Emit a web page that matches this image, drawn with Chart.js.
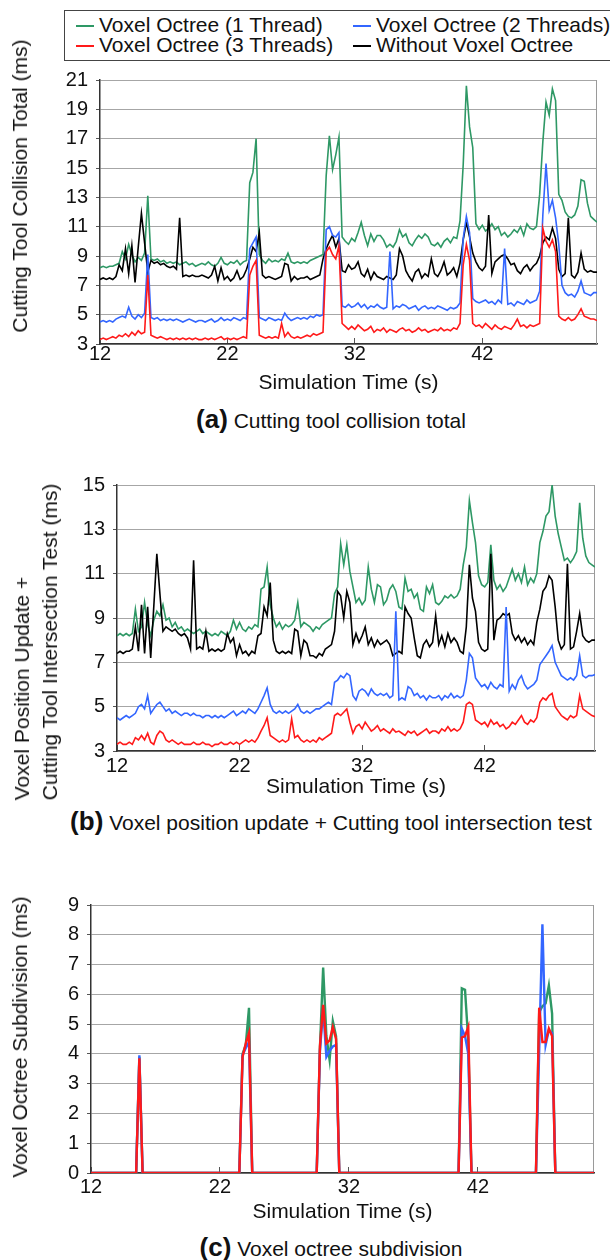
<!DOCTYPE html>
<html>
<head>
<meta charset="utf-8">
<script src="https://cdn.jsdelivr.net/npm/chart.js@4.4.1/dist/chart.umd.min.js"></script>
<style>
  body { margin: 0; background: #fff; width: 610px; height: 1260px; position: relative; overflow: hidden;
         font-family: 'Liberation Sans', Arial, sans-serif; color: #111; }
  canvas { position: absolute; left: 0; }
  .legend { position: absolute; left: 64px; top: 10px; width: 560px; height: 49px; border: 1px solid #444; }
  .item { position: absolute; font-size: 21px; line-height: 21px; white-space: nowrap; }
  .item i { display: inline-block; width: 18px; height: 0; border-top: 2px solid; vertical-align: middle; margin-right: 5px; }
  .ytitle { position: absolute; font-size: 21px; line-height: 28px; white-space: nowrap; text-align: left;
            transform: translate(-50%, -50%) rotate(-90deg); }
  .caption { position: absolute; font-size: 21px; white-space: nowrap; transform: translate(-50%, -50%); }
  .caption b { font-size: 26px; }
</style>
</head>
<body>

<div class="legend">
  <div class="item" style="left:11px;top:3px"><i style="color:#2e9865"></i>Voxel Octree (1 Thread)</div>
  <div class="item" style="left:288px;top:3px"><i style="color:#3366ff"></i>Voxel Octree (2 Threads)</div>
  <div class="item" style="left:11px;top:23px"><i style="color:#ff1a1a"></i>Voxel Octree (3 Threads)</div>
  <div class="item" style="left:288px;top:23px"><i style="color:#000"></i>Without Voxel Octree</div>
</div>

<canvas id="chartTotal" width="610" height="340" style="top:60px"></canvas>
<canvas id="chartUpdate" width="610" height="335" style="top:465px"></canvas>
<canvas id="chartSubdiv" width="610" height="340" style="top:885px"></canvas>

<div class="ytitle" style="left:20px;top:186px">Cutting Tool Collision Total (ms)</div>
<div class="ytitle" style="left:36px;top:642px">Voxel Position Update +<br>Cutting Tool Intersection Test (ms)</div>
<div class="ytitle" style="left:20px;top:1037px">Voxel Octree Subdivision (ms)</div>

<div class="caption" style="left:331px;top:419px"><b>(a)</b> Cutting tool collision total</div>
<div class="caption" style="left:331px;top:821px"><b>(b)</b> Voxel position update + Cutting tool intersection test</div>
<div class="caption" style="left:331px;top:1247px"><b>(c)</b> Voxel octree subdivision</div>

<script>
// sampling grid: every 0.25 s from 12 s to 51 s
const times = [];
for (let t = 12; t <= 51.0001; t += 0.25) times.push(Math.round(t * 100) / 100);

const timeTicks = [12, 22, 32, 42];
const totalTicks = [3, 5, 7, 9, 11, 13, 15, 17, 19, 21];
const updateTicks = [3, 5, 7, 9, 11, 13, 15];
const subdivTicks = [0, 1, 2, 3, 4, 5, 6, 7, 8, 9];

// (a) cutting tool collision total, ms
const totalOne = [
  8.2, 8.3, 8.2, 8.3, 8.3, 8.4, 8.5, 9.3,
  8.8, 9.8, 9.1, 8.6, 8.9, 8.7, 9.2, 13.1,
  8.8, 8.7, 8.8, 8.6, 8.7, 8.5, 8.6, 8.5,
  8.6, 8.4, 8.5, 8.6, 8.4, 8.5, 8.3, 8.4,
  8.5, 8.4, 8.6, 8.4, 8.3, 8.5, 8.9, 8.5,
  8.4, 8.6, 8.5, 8.7, 8.4, 8.6, 8.7, 14.0,
  14.7, 17.0, 9.1, 8.7, 8.5, 8.8, 8.6, 8.7,
  8.6, 8.8, 8.7, 9.2, 8.6, 8.5, 8.6, 8.5,
  8.6, 8.5, 8.7, 8.8, 8.9, 9.0, 9.1, 14.5,
  17.2, 14.9, 15.9, 17.1, 10.3, 10.0, 9.8, 10.2,
  10.0, 10.6, 11.3, 10.4, 9.7, 10.5, 10.0, 10.4,
  10.4, 10.1, 9.6, 9.8, 9.6, 10.0, 10.8, 10.3,
  10.5, 9.9, 9.7, 10.1, 10.4, 10.2, 10.5, 10.3,
  9.8, 9.7, 9.9, 9.6, 10.0, 10.2, 9.9, 10.3,
  10.2, 11.4, 15.2, 20.6, 17.8, 16.4, 11.2, 10.8,
  11.1, 10.7, 10.9, 11.2, 10.8, 11.0, 10.4, 10.6,
  10.3, 10.5, 10.8, 10.6, 11.0, 10.4, 11.2, 10.9,
  10.8, 11.0, 13.2, 16.8, 19.5, 18.6, 20.4, 19.6,
  13.2, 12.8, 12.0, 11.7, 11.6, 11.8, 12.4, 14.2,
  14.1, 12.6, 11.7, 11.5, 11.3
];
const totalTwo = [
  4.5, 4.6, 4.5, 4.6, 4.5, 4.7, 4.8, 4.9,
  4.8, 5.5, 4.9, 4.7, 5.0, 4.8, 5.1, 9.1,
  4.8, 4.7, 4.8, 4.6, 4.7, 4.6, 4.7, 4.6,
  4.7, 4.6, 4.5, 4.6, 4.7, 4.6, 4.5, 4.6,
  4.6, 4.5, 4.6, 4.7, 4.5, 4.6, 4.8, 4.6,
  4.7, 4.6, 4.8, 4.7, 4.6, 4.8, 4.7, 9.5,
  9.9, 10.3, 4.8, 4.7, 4.6, 4.8, 4.7, 4.6,
  4.7, 4.6, 5.1, 4.8, 4.6, 4.7, 4.8, 4.7,
  4.8, 4.7, 4.9, 4.8, 5.0, 4.9, 5.0, 10.8,
  11.0, 10.4, 10.3, 10.6, 5.6, 5.5, 5.7, 5.5,
  5.6, 5.8, 5.5, 5.7, 5.4, 5.6, 5.5, 5.7,
  5.5, 5.4, 5.5, 9.3, 5.4, 5.6, 5.5, 5.7,
  5.6, 5.4, 5.5, 5.6, 5.3, 5.5, 5.6, 5.4,
  5.5, 5.4, 5.6, 5.5, 5.4, 5.3, 5.5, 5.4,
  5.5, 5.8, 10.2, 11.7, 10.6, 6.1, 5.9, 5.8,
  5.9, 6.0, 5.8, 5.9, 5.7, 6.0, 5.8, 9.5,
  5.7, 5.8, 5.6, 5.9, 5.8, 5.7, 6.0, 5.8,
  5.9, 6.0, 6.6, 11.8, 15.3, 12.1, 12.8, 11.6,
  9.8, 7.0, 6.5, 6.3, 6.4, 6.2, 6.6, 7.3,
  6.5, 6.4, 6.3, 6.5, 6.5
];
const totalThree = [
  3.3, 3.4, 3.3, 3.4, 3.5, 3.4, 3.6, 3.5,
  3.7, 3.5, 3.8, 3.6, 3.9, 3.7, 3.8, 7.7,
  3.6, 3.5, 3.4, 3.5, 3.4, 3.3, 3.4, 3.3,
  3.4, 3.3, 3.4, 3.3, 3.4, 3.3, 3.4, 3.3,
  3.3, 3.4, 3.3, 3.4, 3.3, 3.4, 3.5, 3.3,
  3.4, 3.3, 3.4, 3.3, 3.4, 3.5, 3.4, 7.7,
  8.3, 8.7, 3.6, 3.5, 3.4, 3.5, 3.4, 3.5,
  3.4, 4.4, 3.5, 3.8, 3.5, 3.4, 3.5, 3.4,
  3.5, 3.6, 3.5, 3.7, 3.6, 3.7, 3.8, 9.3,
  9.6, 9.1, 8.8, 9.7, 4.4, 4.2, 4.0, 4.2,
  4.0, 4.3, 4.1, 3.9, 4.0, 4.2, 3.8, 4.0,
  3.9, 4.1, 3.8, 4.0, 3.9, 3.8, 4.0, 4.1,
  3.9, 4.0, 3.8, 3.9, 4.1, 3.9, 4.0, 3.8,
  3.9, 4.0, 3.9, 4.1, 3.9, 4.0, 3.9, 4.1,
  4.0, 4.4, 8.4, 9.8, 8.7, 4.4, 4.2, 4.3,
  4.1, 4.4, 4.2, 4.0, 4.3, 4.1, 4.0, 4.2,
  4.1, 4.0, 4.3, 4.7, 4.2, 4.3, 4.1, 4.3,
  4.2, 4.3, 4.4, 10.9, 10.0, 9.6, 10.1, 9.3,
  4.9, 4.7, 4.6, 4.8, 4.6, 4.7, 5.0, 5.4,
  4.9, 4.8, 4.7, 4.7, 4.6
];
const totalNone = [
  7.4, 7.5, 7.4, 7.5, 7.4, 7.6, 8.4, 8.0,
  9.5, 7.8, 9.7, 7.2, 9.6, 11.9, 9.9, 7.9,
  8.7, 8.5, 8.6, 8.4, 8.5, 8.3, 8.2, 8.3,
  8.1, 11.6, 7.6, 7.7, 7.6, 7.7, 7.6, 7.6,
  7.7, 7.6, 7.5, 7.7, 8.3, 7.3, 8.2, 7.4,
  7.6, 7.3, 7.5, 8.0, 7.4, 7.6, 8.1, 8.8,
  9.6, 9.3, 10.6, 7.7, 7.5, 7.6, 7.5, 7.4,
  7.5, 7.6, 8.5, 8.4, 7.3, 7.6, 7.4, 7.5,
  7.5, 7.6, 7.4, 7.5, 7.6, 7.7, 8.8, 9.5,
  10.0, 10.4, 9.6, 10.2, 8.0, 7.9, 8.4, 8.1,
  8.2, 8.6, 7.8, 7.6, 8.1, 7.4, 7.9, 7.6,
  7.5, 7.4, 7.6, 7.5, 7.4, 7.7, 9.5, 9.0,
  8.0, 7.6, 7.3, 7.9, 8.1, 7.5, 7.8, 7.6,
  8.8, 7.8, 7.6, 8.0, 8.6, 7.7, 7.9, 8.2,
  7.6, 8.5, 10.1, 11.3, 10.3, 9.2, 8.6, 8.2,
  8.0, 8.3, 11.8, 7.8, 8.6, 8.8, 9.0, 9.1,
  8.8, 8.4, 8.5, 8.0, 7.8, 8.2, 8.4, 8.0,
  8.3, 8.5, 9.0, 9.9, 10.3, 10.1, 10.9, 10.2,
  8.1, 7.6, 7.8, 11.6, 7.7, 7.5, 7.9, 9.2,
  8.1, 7.9, 8.0, 7.9, 7.9
];

// (b) voxel position update + cutting tool intersection test, ms
const updateOne = [
  8.2, 8.3, 8.2, 8.3, 8.2, 8.3, 9.4, 8.4,
  8.6, 9.7, 8.7, 8.2, 8.9, 9.3, 9.1, 9.6,
  8.9, 9.0, 8.6, 8.8, 8.5, 8.6, 8.4, 8.5,
  8.4, 8.3, 8.4, 8.5, 8.3, 8.4, 8.3, 8.2,
  8.3, 8.2, 8.4, 8.3, 8.2, 8.4, 8.9, 8.5,
  8.8, 8.5, 8.4, 8.6, 8.5, 8.7, 8.6, 10.3,
  10.4, 11.3, 9.6, 9.0, 8.6, 8.8, 8.5, 8.7,
  8.6, 8.7, 8.9, 9.7, 8.6, 8.8, 8.7, 8.6,
  8.4, 8.6, 8.5, 8.7, 8.8, 8.9, 9.0, 10.1,
  10.4, 12.35, 11.4, 12.3, 11.1, 10.4, 9.7, 9.9,
  9.6, 9.8, 11.3, 10.3, 9.7, 10.5, 10.4, 9.6,
  9.8, 10.3, 10.5, 10.2, 9.5, 9.4, 10.8, 10.2,
  10.3, 9.9, 10.1, 9.4, 9.3, 10.4, 10.1, 10.5,
  9.7, 9.6, 9.75, 10.0, 9.9, 10.05, 9.9, 10.0,
  10.3, 11.4, 12.2, 14.3, 13.3, 12.4, 10.9, 10.5,
  10.4, 10.6, 12.3, 10.7, 10.3, 10.5, 10.2, 10.4,
  10.8, 11.2, 10.7, 11.0, 10.6, 11.3, 10.5, 10.8,
  10.6, 11.0, 12.4, 12.9, 13.6, 13.8, 15.0, 13.6,
  12.8, 12.2, 11.6, 11.7, 11.5, 11.7, 12.0, 14.2,
  12.6, 11.8, 11.5, 11.4, 11.3
];
const updateTwo = [
  4.5, 4.4, 4.5, 4.6, 4.5, 4.6, 4.7, 5.0,
  5.1, 4.9, 5.5, 4.7, 4.9, 5.1, 5.2, 5.0,
  4.8, 4.9, 4.7, 4.8, 4.7, 4.6, 4.7, 4.7,
  4.6, 4.7, 4.6, 4.6, 4.5, 4.6, 4.6, 4.5,
  4.6, 4.5, 4.6, 4.5, 4.6, 4.7, 4.8, 4.6,
  4.7, 4.8, 4.7, 4.9, 4.8, 4.7, 4.9, 5.2,
  5.5, 5.85, 5.1, 4.8, 4.7, 4.8, 4.7, 4.8,
  4.7, 4.8, 4.9, 5.1, 4.8, 4.7, 4.8, 4.7,
  4.8, 4.9, 4.9, 5.0, 5.1, 5.2, 5.1, 6.1,
  6.2, 6.4, 6.3, 6.5, 6.4, 5.5, 5.3, 5.7,
  5.8, 5.7, 5.5, 5.8, 5.6, 5.5, 5.6, 5.5,
  5.6, 5.4, 5.5, 9.3, 5.3, 5.4, 5.3, 5.9,
  5.8, 5.5, 5.6, 5.4, 5.5, 5.3, 5.5, 5.4,
  5.4, 5.5, 5.3, 5.5, 5.4, 5.6, 5.4, 5.5,
  5.4, 5.5, 6.2, 7.4, 7.2, 6.3, 6.1, 5.9,
  6.0, 5.8, 6.1, 5.9, 5.8, 6.0, 5.9, 9.5,
  5.7, 6.0, 5.8, 6.2, 6.4, 6.0, 5.8, 5.9,
  6.0, 6.2, 6.9, 7.1, 7.3, 7.5, 7.75, 7.0,
  6.7, 6.4, 6.3, 6.2, 6.3, 6.2, 6.4, 7.3,
  6.4, 6.3, 6.4, 6.4, 6.45
];
const updateThree = [
  3.3, 3.4, 3.3, 3.3, 3.4, 3.3, 3.6, 3.5,
  3.7, 3.5, 3.8, 3.4, 3.3, 3.7, 3.9, 3.8,
  3.5, 3.4, 3.5, 3.4, 3.3, 3.4, 3.3, 3.3,
  3.3, 3.4, 3.3, 3.3, 3.4, 3.3, 3.3, 3.2,
  3.3, 3.3, 3.4, 3.3, 3.3, 3.4, 3.3, 3.4,
  3.3, 3.4, 3.5, 3.4, 3.5, 3.4, 3.6, 3.9,
  4.15, 4.5, 3.7, 3.6, 3.5, 3.4, 3.5, 3.4,
  3.5, 4.45, 3.6, 3.7, 3.5, 3.4, 3.5, 3.4,
  3.5, 3.4, 3.6, 3.5, 3.6, 3.7, 3.8, 4.6,
  4.7, 4.6, 4.75, 4.9, 4.3, 3.8, 4.1, 4.2,
  4.0, 4.3, 4.1, 3.9, 4.0, 4.15, 3.9, 4.0,
  3.9, 3.8, 4.0, 3.85, 3.9, 3.8, 3.7, 3.9,
  3.8, 3.9, 3.7, 3.8, 3.9, 4.0, 3.8, 3.9,
  3.9, 3.8, 4.0, 3.9, 4.1, 3.9, 4.0, 3.9,
  4.0, 4.3, 5.1, 5.2, 5.1, 4.4, 4.3, 4.2,
  4.3, 4.1, 4.4, 4.2, 4.3, 4.1, 4.2, 4.0,
  4.1, 4.3, 4.2, 4.4, 4.6, 4.3, 4.2, 4.4,
  4.3, 4.5, 5.2, 5.4, 5.3, 5.5, 5.6, 5.0,
  4.8, 4.6, 4.5, 4.4, 4.6, 4.5, 4.6, 5.5,
  4.9, 4.8, 4.7, 4.6, 4.55
];
const updateNone = [
  7.4, 7.5, 7.4, 7.5, 7.5, 7.6, 8.6, 7.5,
  9.6, 7.4, 9.5, 7.2, 9.5, 11.9, 10.1, 8.4,
  8.6, 8.5, 8.4, 8.5, 8.3, 8.2, 8.3, 8.1,
  7.6, 11.6, 7.6, 7.7, 7.6, 8.4, 7.5, 7.6,
  7.5, 7.6, 7.5, 7.6, 8.3, 7.9, 8.1, 7.3,
  7.8, 7.4, 7.5, 7.3, 7.5, 7.4, 8.2, 8.3,
  9.5, 9.1, 10.6, 8.0, 7.5, 7.4, 7.5, 7.4,
  7.5, 7.4, 8.5, 8.4, 7.3, 8.0, 7.85, 7.3,
  7.3, 7.2, 7.4, 7.3, 7.6, 7.7, 7.8, 8.4,
  10.2, 10.0, 9.0, 10.2, 9.7, 7.8, 8.3, 7.9,
  8.2, 8.6, 7.8, 8.1, 7.7, 8.0, 7.8, 7.9,
  8.0, 7.8, 7.3, 7.4, 7.5, 7.4, 9.5, 9.2,
  9.0, 8.1, 7.3, 7.2, 7.8, 8.0, 7.7, 7.9,
  9.1, 7.8, 8.2, 7.7, 8.3, 7.9, 8.1, 7.9,
  7.5, 7.4, 8.6, 11.4, 9.9, 9.3, 7.9, 7.6,
  7.5, 7.6, 11.9, 8.0, 8.9, 9.0, 9.2, 9.1,
  9.2, 8.3, 8.0, 8.2, 7.9, 8.1, 7.8, 8.0,
  7.8, 8.8, 9.4, 10.2, 10.4, 10.9, 10.7, 9.5,
  8.0, 7.6, 7.8, 11.45, 7.6, 7.7, 8.4, 9.2,
  8.2, 8.0, 7.9, 8.0, 8.0
];

// (c) voxel octree subdivision, ms (no subdivision between cuts)
const subdivOne = [
  0, 0, 0, 0, 0, 0, 0, 0,
  0, 0, 0, 0, 0, 0, 0, 3.9,
  0, 0, 0, 0, 0, 0, 0, 0,
  0, 0, 0, 0, 0, 0, 0, 0,
  0, 0, 0, 0, 0, 0, 0, 0,
  0, 0, 0, 0, 0, 0, 0, 4.0,
  4.3, 5.55, 0, 0, 0, 0, 0, 0,
  0, 0, 0, 0, 0, 0, 0, 0,
  0, 0, 0, 0, 0, 0, 0, 4.2,
  6.9, 4.6, 3.8, 5.1, 4.6, 0, 0, 0,
  0, 0, 0, 0, 0, 0, 0, 0,
  0, 0, 0, 0, 0, 0, 0, 0,
  0, 0, 0, 0, 0, 0, 0, 0,
  0, 0, 0, 0, 0, 0, 0, 0,
  0, 0, 0, 6.2, 6.15, 4.45, 0, 0,
  0, 0, 0, 0, 0, 0, 0, 0,
  0, 0, 0, 0, 0, 0, 0, 0,
  0, 0, 0, 5.4, 5.6, 5.7, 6.3, 5.35,
  0, 0, 0, 0, 0, 0, 0, 0,
  0, 0, 0, 0, 0
];
const subdivTwo = [
  0, 0, 0, 0, 0, 0, 0, 0,
  0, 0, 0, 0, 0, 0, 0, 3.95,
  0, 0, 0, 0, 0, 0, 0, 0,
  0, 0, 0, 0, 0, 0, 0, 0,
  0, 0, 0, 0, 0, 0, 0, 0,
  0, 0, 0, 0, 0, 0, 0, 3.95,
  4.2, 4.4, 0, 0, 0, 0, 0, 0,
  0, 0, 0, 0, 0, 0, 0, 0,
  0, 0, 0, 0, 0, 0, 0, 4.1,
  5.5, 3.9, 4.1, 4.25, 4.3, 0, 0, 0,
  0, 0, 0, 0, 0, 0, 0, 0,
  0, 0, 0, 0, 0, 0, 0, 0,
  0, 0, 0, 0, 0, 0, 0, 0,
  0, 0, 0, 0, 0, 0, 0, 0,
  0, 0, 0, 4.85, 4.6, 4.0, 0, 0,
  0, 0, 0, 0, 0, 0, 0, 0,
  0, 0, 0, 0, 0, 0, 0, 0,
  0, 0, 0, 4.1, 8.35, 4.3, 4.8, 4.7,
  0, 0, 0, 0, 0, 0, 0, 0,
  0, 0, 0, 0, 0
];
const subdivThree = [
  0, 0, 0, 0, 0, 0, 0, 0,
  0, 0, 0, 0, 0, 0, 0, 3.85,
  0, 0, 0, 0, 0, 0, 0, 0,
  0, 0, 0, 0, 0, 0, 0, 0,
  0, 0, 0, 0, 0, 0, 0, 0,
  0, 0, 0, 0, 0, 0, 0, 3.9,
  4.35, 4.7, 0, 0, 0, 0, 0, 0,
  0, 0, 0, 0, 0, 0, 0, 0,
  0, 0, 0, 0, 0, 0, 0, 4.25,
  5.65, 4.35, 4.45, 4.9, 4.5, 0, 0, 0,
  0, 0, 0, 0, 0, 0, 0, 0,
  0, 0, 0, 0, 0, 0, 0, 0,
  0, 0, 0, 0, 0, 0, 0, 0,
  0, 0, 0, 0, 0, 0, 0, 0,
  0, 0, 0, 4.55, 4.6, 4.9, 0, 0,
  0, 0, 0, 0, 0, 0, 0, 0,
  0, 0, 0, 0, 0, 0, 0, 0,
  0, 0, 0, 5.55, 4.4, 4.4, 4.85, 4.6,
  0, 0, 0, 0, 0, 0, 0, 0,
  0, 0, 0, 0, 0
];

const FONT = "'Liberation Sans', Arial, sans-serif";
const GREEN = '#2e9865', BLUE = '#3366ff', RED = '#ff1a1a', BLACK = '#000000';

// gray right edge of the plot box (top edge is the last grid line)
const plotFrame = {
  id: 'plotFrame',
  beforeDatasetsDraw(chart) {
    const { ctx, chartArea: a } = chart;
    ctx.save();
    ctx.strokeStyle = '#9a9a9a';
    ctx.lineWidth = 1;
    ctx.beginPath();
    ctx.moveTo(a.right - 0.5, a.top);
    ctx.lineTo(a.right - 0.5, a.bottom);
    ctx.stroke();
    ctx.restore();
  }
};

function series(values, color, order, width) {
  return {
    data: values.map((v, i) => ({ x: times[i], y: v })),
    borderColor: color,
    borderWidth: width,
    pointRadius: 0,
    tension: 0,
    order: order
  };
}

function drawPanel(id, p) {
  new Chart(document.getElementById(id), {
    type: 'line',
    data: { datasets: p.datasets },
    plugins: [plotFrame],
    options: {
      responsive: false,
      animation: false,
      devicePixelRatio: 1,
      layout: { padding: { top: p.top, right: p.right, left: 0, bottom: 0 } },
      plugins: { legend: { display: false }, tooltip: { enabled: false } },
      scales: {
        x: {
          type: 'linear', min: 12, max: 51,
          afterBuildTicks: s => { s.ticks = timeTicks.map(v => ({ value: v })); },
          afterFit: s => { s.height = p.xHeight; },
          grid: { drawOnChartArea: false, tickLength: -6, tickColor: '#555', tickWidth: 1 },
          border: { color: '#333', width: 1.5 },
          ticks: { font: { family: FONT, size: 20 }, color: '#111', padding: p.xPad, maxRotation: 0, autoSkip: false },
          title: { display: true, text: 'Simulation Time (s)', color: '#111',
                   font: { family: FONT, size: 21 }, padding: { top: 0, bottom: p.titlePad } }
        },
        y: {
          min: p.yTicks[0], max: p.yTicks[p.yTicks.length - 1],
          afterBuildTicks: s => { s.ticks = p.yTicks.map(v => ({ value: v })); },
          afterFit: s => { s.width = p.yWidth; },
          grid: { color: '#a6a6a6', lineWidth: 1, tickLength: 4, tickColor: '#555' },
          border: { color: '#333', width: 1.5 },
          ticks: { font: { family: FONT, size: 20 }, color: '#111', padding: 8 }
        }
      }
    }
  });
}

drawPanel('chartTotal', {
  yTicks: totalTicks, yWidth: 100, top: 13, right: 13, xHeight: 56, xPad: 4, titlePad: 4,
  datasets: [
    series(totalOne, GREEN, 3, 1.6),
    series(totalTwo, BLUE, 1, 1.6),
    series(totalThree, RED, 0, 1.6),
    series(totalNone, BLACK, 2, 1.6)
  ]
});

drawPanel('chartUpdate', {
  yTicks: updateTicks, yWidth: 117, top: 15, right: 15, xHeight: 49, xPad: 9, titlePad: 0,
  datasets: [
    series(updateOne, GREEN, 3, 1.6),
    series(updateTwo, BLUE, 1, 1.6),
    series(updateThree, RED, 0, 1.6),
    series(updateNone, BLACK, 2, 1.6)
  ]
});

drawPanel('chartSubdiv', {
  yTicks: subdivTicks, yWidth: 91, top: 16, right: 16, xHeight: 52, xPad: 8, titlePad: 0,
  datasets: [
    series(subdivOne, GREEN, 2, 2.4),
    series(subdivTwo, BLUE, 1, 2.4),
    series(subdivThree, RED, 0, 2.4)
  ]
});
</script>
</body>
</html>
